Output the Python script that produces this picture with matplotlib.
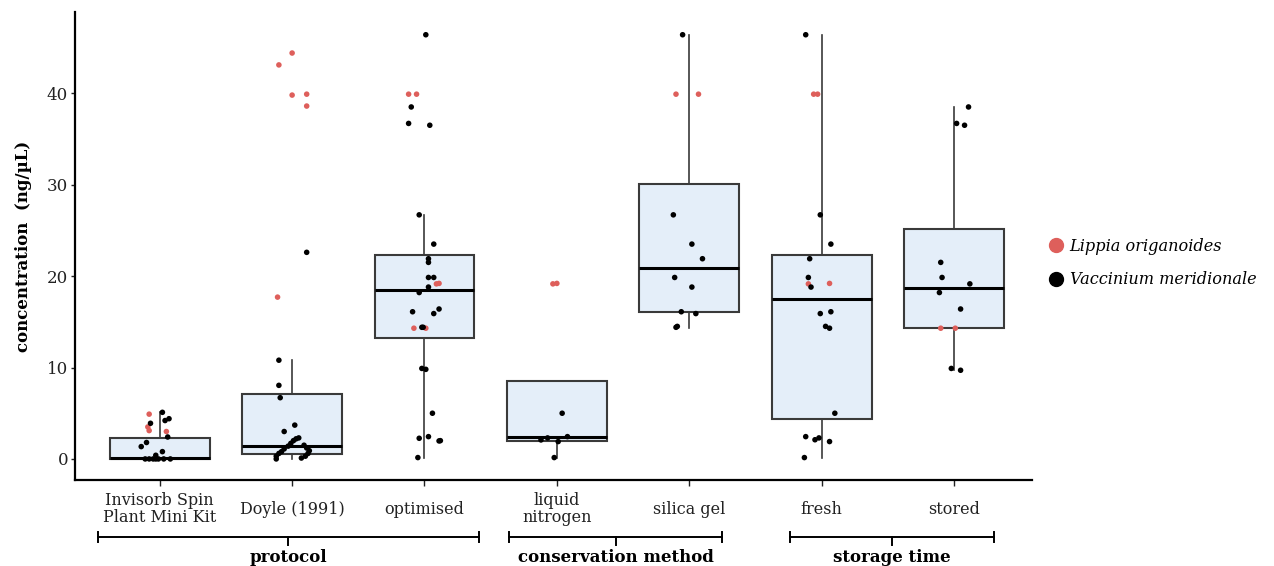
import matplotlib.pyplot as plt
from matplotlib.lines import Line2D
from matplotlib.transforms import blended_transform_factory

plt.rcParams['font.family'] = ['DejaVu Serif']

# categories along the x axis
categories = ['Invisorb Spin\nPlant Mini Kit', 'Doyle (1991)', 'optimised',
              'liquid\nnitrogen', 'silica gel', 'fresh', 'stored']

# box statistics: q1, median, q3, lower / upper whisker
box_q1 = [0.0, 0.55, 13.2, 2.0, 16.1, 4.37, 14.3]
box_med = [0.12, 1.4, 18.5, 2.37, 20.9, 17.5, 18.7]
box_q3 = [2.3, 7.1, 22.3, 8.5, 30.05, 22.3, 25.2]
box_lo = [0.0, 0.0, 0.15, 0.15, 14.3, 0.15, 9.7]
box_hi = [5.1, 10.8, 26.7, 8.5, 46.4, 46.4, 38.5]

# individual measurements (ng/uL) and their horizontal jitter
lippia_vals = [
    [4.9, 3.5, 3.1, 3.0],
    [43.1, 44.4, 39.8, 39.9, 38.6, 17.7],
    [39.9, 39.9, 19.15, 19.2, 14.3, 14.3],
    [19.15, 19.2],
    [39.9, 39.9],
    [39.9, 39.9, 19.15, 19.2],
    [14.3, 14.3],
]
lippia_jit = [
    [-0.08, -0.09, -0.08, 0.05],
    [-0.10, 0.0, 0.0, 0.11, 0.11, -0.11],
    [-0.12, -0.06, 0.09, 0.11, -0.08, 0.01],
    [-0.03, 0.0],
    [-0.10, 0.07],
    [-0.06, -0.03, -0.10, 0.06],
    [-0.10, 0.01],
]
vacc_vals = [
    [5.1, 3.9, 4.4, 4.2, 2.4, 1.8, 1.35, 0.8, 0.4, 0, 0, 0, 0, 0, 0, 0],
    [22.6, 10.8, 8.05, 6.7, 3.7, 3.0, 2.3, 2.2, 2.0, 1.7, 1.4, 1.1, 0.8, 0.6,
     0.3, 0.0, 1.5, 1.2, 0.9, 0.6, 0.3, 0.1],
    [46.4, 38.5, 36.7, 36.5, 26.7, 23.5, 21.9, 21.5, 19.85, 19.85, 18.8, 18.2,
     16.1, 16.4, 15.9, 14.4, 14.4, 9.9, 9.8, 5.0, 2.26, 2.44, 1.97, 2.0, 0.15],
    [5.0, 2.3, 2.44, 2.08, 1.9, 0.15],
    [46.4, 26.7, 23.5, 21.9, 19.85, 18.8, 16.1, 15.9, 14.4, 14.5],
    [46.4, 26.7, 23.5, 21.9, 19.85, 18.8, 15.9, 16.1, 14.5, 14.3, 5.0, 2.44,
     2.1, 2.3, 1.9, 0.15],
    [38.5, 36.7, 36.5, 21.5, 19.85, 19.15, 18.2, 16.4, 9.9, 9.7],
]
vacc_jit = [
    [0.02, -0.07, 0.07, 0.04, 0.06, -0.10, -0.14, 0.02, -0.03, -0.11, -0.08,
     -0.05, -0.03, -0.01, 0.03, 0.08],
    [0.11, -0.10, -0.10, -0.09, 0.02, -0.06, 0.05, 0.03, 0.01, -0.01, -0.03,
     -0.06, -0.08, -0.10, -0.12, -0.12, 0.09, 0.11, 0.13, 0.12, 0.10, 0.07],
    [0.01, -0.10, -0.12, 0.04, -0.04, 0.07, 0.03, 0.03, 0.03, 0.07, 0.03,
     -0.04, -0.09, 0.11, 0.07, -0.02, -0.01, -0.02, 0.01, 0.06, -0.04, 0.03,
     0.11, 0.12, -0.05],
    [0.04, -0.07, 0.08, -0.12, 0.01, -0.02],
    [-0.05, -0.12, 0.02, 0.10, -0.11, 0.02, -0.06, 0.05, -0.10, -0.09],
    [-0.12, -0.01, 0.07, -0.09, -0.10, -0.08, -0.01, 0.07, 0.03, 0.06, 0.10,
     -0.12, -0.05, -0.02, 0.06, -0.13],
    [0.11, 0.02, 0.08, -0.10, -0.09, 0.12, -0.11, 0.05, -0.02, 0.05],
]

# factor groups under the axis: name, first and last category index
groups = [('protocol', 0, 2), ('conservation method', 3, 4), ('storage time', 5, 6)]

red = '#de5f5b'
box_fill = '#e4eef9'

fig = plt.figure(figsize=(12.74, 5.66), dpi=100)
ax = fig.add_axes([0.0589, 0.152, 0.7512, 0.827])

stats = []
for i in range(len(categories)):
    stats.append(dict(q1=box_q1[i], med=box_med[i], q3=box_q3[i],
                      whislo=box_lo[i], whishi=box_hi[i], fliers=[]))
pos = list(range(len(categories)))
ax.bxp(stats, positions=pos, widths=0.755, showcaps=False, patch_artist=True,
       boxprops=dict(facecolor=box_fill, edgecolor='#3a3a3a', linewidth=1.5),
       whiskerprops=dict(color='#3a3a3a', linewidth=1.2),
       medianprops=dict(color='black', linewidth=2.2), zorder=1)

for i in pos:
    ax.scatter([i + j for j in lippia_jit[i]], lippia_vals[i], s=16,
               color=red, edgecolor='none', zorder=3)
    ax.scatter([i + j for j in vacc_jit[i]], vacc_vals[i], s=16,
               color='black', edgecolor='none', zorder=3)

ax.set_xlim(-0.64, 6.59)
ax.set_ylim(-2.3, 48.9)
ax.set_yticks([0, 10, 20, 30, 40])
ax.tick_params(axis='y', labelsize=12, length=3, width=1, pad=2, colors='#222')
ax.set_xticks(pos)
ax.set_xticklabels(categories, va='center', linespacing=0.95)
ax.tick_params(axis='x', labelsize=11.5, length=4, width=1, pad=17, colors='#222')
for s in ['top', 'right']:
    ax.spines[s].set_visible(False)
for s in ['left', 'bottom']:
    ax.spines[s].set_linewidth(1.6)
ax.set_ylabel('concentration  (ng/µL)', fontsize=12, fontweight='bold', labelpad=11)

# group brackets under the tick labels
trans = blended_transform_factory(ax.transData, ax.transAxes)
bracket_pad = {'protocol': (-0.47, 0.41), 'conservation method': (-0.36, 0.25),
               'storage time': (-0.24, 0.30)}
yb = -0.122
for name, a, b in groups:
    lo, hi = a + bracket_pad[name][0], b + bracket_pad[name][1]
    mid = (lo + hi) / 2
    ax.plot([lo, hi], [yb, yb], color='black', lw=1.4, transform=trans, clip_on=False)
    for xx in (lo, hi):
        ax.plot([xx, xx], [yb - 0.01, yb + 0.01], color='black', lw=1.4,
                transform=trans, clip_on=False)
    ax.plot([mid, mid], [yb, yb - 0.017], color='black', lw=1.4,
            transform=trans, clip_on=False)
    ax.text(mid, -0.165, name, transform=trans, ha='center', va='center',
            fontsize=12, fontweight='bold')

handles = [Line2D([], [], marker='o', ls='none', color=red, markersize=10),
           Line2D([], [], marker='o', ls='none', color='black', markersize=10)]
fig.legend(handles, ['Lippia origanoides', 'Vaccinium meridionale'],
           loc='center left', bbox_to_anchor=(0.808, 0.535), frameon=False,
           prop=dict(style='italic', size=11.6), handletextpad=0.1,
           labelspacing=1.0, handlelength=1.5)

fig.savefig('out.png', dpi=100)
